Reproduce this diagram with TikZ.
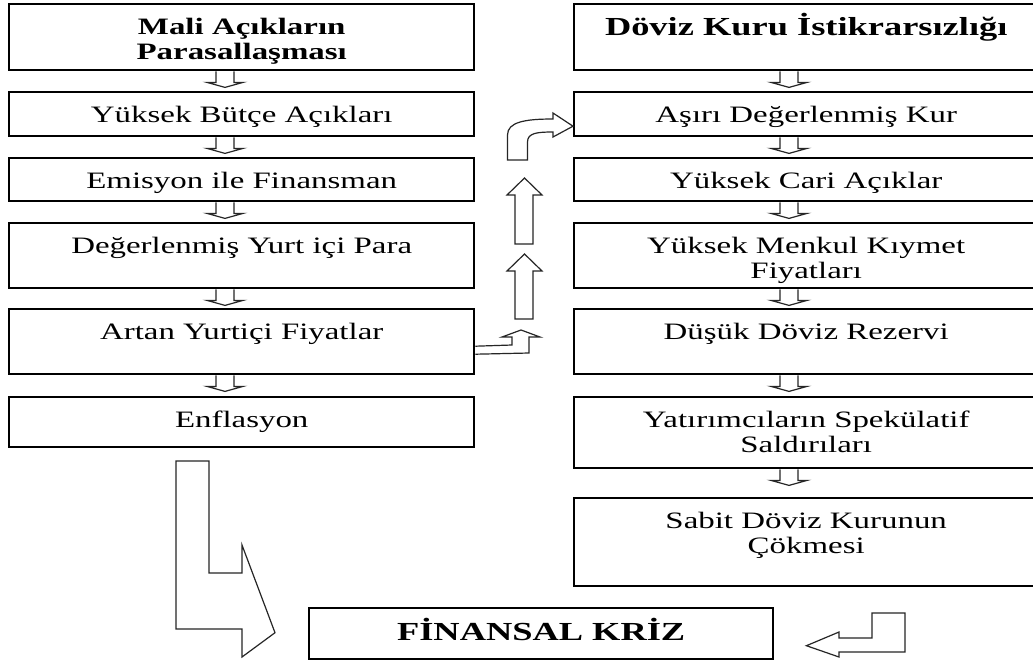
\documentclass[tikz,border=0pt]{standalone}
\usepackage{fontspec}
\setmainfont{Liberation Serif}[FakeStretch=1.4]
\usetikzlibrary{calc}
\newcommand\st{\rule{0pt}{24pt}}
\newcommand\smalldown[2]{\draw[arr] (#1.south -| #2) ++(-9,0) -- ++(0,11) -- ++(-9,0) -- ++(18,5) -- ++(18,-5) -- ++(-9,0) -- ++(0,-11);}
\begin{document}
\begin{tikzpicture}[x=1pt,y=-1pt,
  box/.style={draw,line width=2.4pt,rectangle,inner sep=0pt,anchor=north west},
  txt/.style={anchor=north,inner sep=0pt,align=center,font=\fontsize{23.5}{25}\selectfont},
  btxt/.style={txt,font=\fontsize{23.5}{25}\selectfont\bfseries},
  htxt/.style={txt,font=\fontsize{26}{27}\selectfont\bfseries},
  arr/.style={draw=black!85,line width=1.2pt,line join=miter}]
\useasboundingbox (0,0) rectangle (1033,664);
\fill[white] (0,0) rectangle (1033,664);
\clip (0,0) rectangle (1033,664);
\coordinate (lx) at (225,0);
\coordinate (rx) at (789,0);
% left column
\node[box,minimum width=465pt,minimum height=66pt] (l1) at (8,3) {};
\node[box,minimum width=465pt,minimum height=44pt] (l2) at (8,91) {};
\node[box,minimum width=465pt,minimum height=43pt] (l3) at (8,157) {};
\node[box,minimum width=465pt,minimum height=65pt] (l4) at (8,222) {};
\node[box,minimum width=465pt,minimum height=65pt] (l5) at (8,308) {};
\node[box,minimum width=465pt,minimum height=50pt] (l6) at (8,396) {};
% right column
\node[box,minimum width=464pt,minimum height=66pt] (r1) at (573,3) {};
\node[box,minimum width=464pt,minimum height=44pt] (r2) at (573,91) {};
\node[box,minimum width=464pt,minimum height=43pt] (r3) at (573,157) {};
\node[box,minimum width=464pt,minimum height=65pt] (r4) at (573,222) {};
\node[box,minimum width=464pt,minimum height=65pt] (r5) at (573,308) {};
\node[box,minimum width=464pt,minimum height=71pt] (r6) at (573,396) {};
\node[box,minimum width=464pt,minimum height=88pt] (r7) at (573,497) {};
% final box
\node[box,minimum width=464pt,minimum height=51pt] (fk) at (308,607) {};
% texts
\node[btxt] (tl1) at ($(l1.north)+(0,7)$) {\st Mali Açıkların\\Parasallaşması};
\node[txt] (tl2) at ($(l2.north)+(0,7)$) {\st Yüksek Bütçe Açıkları};
\node[txt] (tl3) at ($(l3.north)+(0,7)$) {\st Emisyon ile Finansman};
\node[txt] (tl4) at ($(l4.north)+(0,7)$) {\st Değerlenmiş Yurt içi Para};
\node[txt] (tl5) at ($(l5.north)+(0,7)$) {\st Artan Yurtiçi Fiyatlar};
\node[txt] (tl6) at ($(l6.north)+(0,7)$) {\st Enflasyon};
\node[htxt] (tr1) at ($(r1.north)+(0,8.3)$) {\st Döviz Kuru İstikrarsızlığı};
\node[txt] (tr2) at ($(r2.north)+(0,7)$) {\st Aşırı Değerlenmiş Kur};
\node[txt] (tr3) at ($(r3.north)+(0,7)$) {\st Yüksek Cari Açıklar};
\node[txt] (tr4) at ($(r4.north)+(0,7)$) {\st Yüksek Menkul Kıymet\\Fiyatları};
\node[txt] (tr5) at ($(r5.north)+(0,7)$) {\st Düşük Döviz Rezervi};
\node[txt] (tr6) at ($(r6.north)+(0,7)$) {\st Yatırımcıların Spekülatif\\Saldırıları};
\node[txt] (tr7) at ($(r7.north)+(0,7)$) {\st Sabit Döviz Kurunun\\Çökmesi};
\node[htxt] (tfk) at ($(fk.north)+(0,9.3)$) {\st FİNANSAL KRİZ};
% small down arrows
\smalldown{l1}{lx}
\smalldown{l2}{lx}
\smalldown{l3}{lx}
\smalldown{l4}{lx}
\smalldown{l5}{lx}
\smalldown{r1}{rx}
\smalldown{r2}{rx}
\smalldown{r3}{rx}
\smalldown{r4}{rx}
\smalldown{r5}{rx}
\smalldown{r6}{rx}
% bent arrow out of l5
\draw[arr] ($(l5.east)+(0,4.5)$) -- (512,345) -- (512,337) -- (502,337) -- (521,330) -- (540,337) -- (529,337) -- (529,353) -- ($(l5.east)+(0,12.5)$);
% up arrows
\draw[arr] (515,319) -- (515,271) -- (507,271) -- (524.5,254) -- (542,271) -- (533,271) -- (533,319) -- cycle;
\draw[arr] (515,244) -- (515,195) -- (507,195) -- (524.5,178) -- (542,195) -- (533,195) -- (533,244) -- cycle;
% curved arrow into r2
\draw[arr] (507.5,160) -- (507.5,135) .. controls (507.5,122) and (525,119) .. (553,119) -- (553,113) -- ($(r2.west)+(0,12)$) -- (553,137) -- (553,132) .. controls (537,132) and (527.5,133) .. (527.5,142) -- (527.5,160) -- cycle;
% big L arrow to final box
\draw[arr] (176,461) -- (209,461) -- (209,573) -- (242,573) -- (242,545) -- ($(fk.west)+(-33,-1)$) -- (242,657) -- (242,629) -- (176,629) -- cycle;
% return arrow into final box
\draw[arr] (905,613) -- (905,652) -- (839,652) -- (839,657) -- ($(fk.east)+(32,12)$) -- (839,632) -- (839,638) -- (872,638) -- (872,613) -- cycle;
\end{tikzpicture}
\end{document}
